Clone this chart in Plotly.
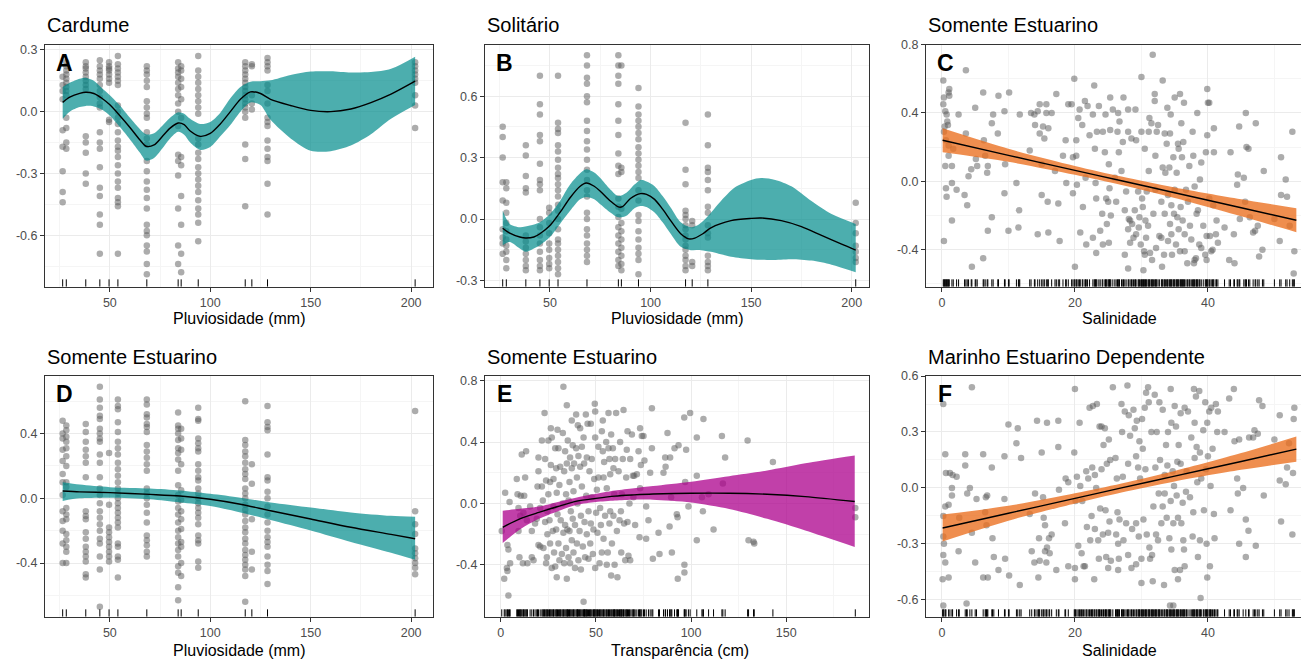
import plotly.graph_objects as go

# ---------------- DATA ----------------
rain_levels = [26.5, 28.3, 38.0, 45.0, 49.6, 54.0, 68.4, 84.0, 85.5, 94.0, 117.4, 120.7, 128.5, 202.0]

cardume_y = [
    [0.17, 0.13, 0.10, 0.06, -0.09, -0.17, -0.29, -0.39, -0.44],
    [0.24, 0.22, 0.2, 0.18, 0.16, 0.14, 0.12, 0.1, 0.08, -0.03, -0.08, -0.15, -0.18],
    [0.24, 0.22, 0.21, 0.19, 0.17, 0.15, 0.13, 0.11, -0.12, -0.15, -0.2, -0.3, -0.35],
    [0.25, 0.22, 0.2, 0.18, 0.16, 0.13, 0.1, 0.07, 0.04, 0.02, -0.1, -0.15, -0.18, -0.27, -0.37, -0.41, -0.5, -0.55, -0.69],
    [0.24, 0.22, 0.21, 0.2, 0.18, 0.16, 0.14, -0.04, -0.05],
    [0.27, 0.23, 0.21, 0.19, 0.17, 0.15, 0.13, 0.03, 0.0, -0.03, -0.06, -0.1, -0.14, -0.17, -0.19, -0.22, -0.26, -0.3, -0.34, -0.37, -0.42, -0.44, -0.46, -0.69],
    [0.22, 0.2, 0.18, 0.15, 0.12, 0.05, 0.02, -0.01, -0.03, -0.1, -0.13, -0.16, -0.24, -0.29, -0.34, -0.38, -0.42, -0.47, -0.55, -0.58, -0.6, -0.65, -0.68, -0.74, -0.79],
    [0.24, 0.21, 0.19, 0.17, 0.14, 0.11, 0.08, 0.04, 0.0, -0.07, -0.21, -0.24, -0.31, -0.47, -0.65, -0.74],
    [0.22, 0.2, 0.16, 0.12, 0.06, -0.03, -0.22, -0.26, -0.41, -0.55, -0.69, -0.78],
    [0.27, 0.2, 0.17, 0.14, 0.11, 0.08, 0.05, 0.02, -0.01, -0.13, -0.16, -0.2, -0.23, -0.27, -0.3, -0.33, -0.36, -0.39, -0.43, -0.47, -0.5, -0.54, -0.63],
    [0.24, 0.22, 0.2, 0.18, 0.16, 0.14, 0.12, 0.1, 0.08, 0.06, 0.04, 0.02, 0.0, -0.03, -0.16, -0.23, -0.46],
    [0.23, 0.22, 0.08, 0.04, 0.01],
    [0.26, 0.24, 0.22, 0.2, 0.13, 0.1, 0.04, -0.03, -0.05, -0.07, -0.14, -0.18, -0.22, -0.24, -0.35, -0.5],
    [0.24, 0.22, 0.2, 0.18, 0.16, 0.14, 0.08, 0.03, -0.08],
]
cardume_fit_x = [26.5, 30, 35, 38, 42, 46, 50, 55, 60, 65, 68, 72, 76, 80, 84, 87, 90, 95, 100, 105, 110, 115, 120, 125, 130, 140, 150, 160, 170, 180, 190, 202]
cardume_fit = [0.045, 0.07, 0.089, 0.094, 0.088, 0.065, 0.033, -0.02, -0.077, -0.138, -0.168, -0.162, -0.122, -0.08, -0.055, -0.063, -0.094, -0.12, -0.106, -0.06, 0.0, 0.06, 0.096, 0.088, 0.06, 0.03, 0.006, 0.0, 0.013, 0.044, 0.085, 0.148]
cardume_hi = [0.12, 0.14, 0.16, 0.165, 0.15, 0.115, 0.08, 0.03, -0.03, -0.085, -0.11, -0.105, -0.07, -0.03, -0.003, -0.01, -0.035, -0.06, -0.05, -0.005, 0.065, 0.12, 0.145, 0.148, 0.152, 0.178, 0.195, 0.196, 0.19, 0.192, 0.208, 0.267]
cardume_lo = [-0.035, 0.0, 0.022, 0.028, 0.025, 0.01, -0.02, -0.075, -0.135, -0.2, -0.238, -0.225, -0.18, -0.13, -0.098, -0.112, -0.15, -0.186, -0.172, -0.12, -0.065, 0.0, 0.045, 0.032, -0.04, -0.13, -0.19, -0.192, -0.165, -0.11, -0.035, 0.032]

solitario_y = [
    [0.45, 0.4, 0.3, 0.18, 0.09, -0.05, -0.09, -0.12, -0.17],
    [0.18, 0.15, 0.08, 0.03, -0.02, -0.06, -0.1, -0.13, -0.16, -0.2, -0.24],
    [0.36, 0.31, 0.21, 0.15, 0.13, -0.08, -0.11, -0.14, -0.17, -0.2, -0.23, -0.25],
    [0.7, 0.56, 0.51, 0.41, 0.38, 0.27, 0.19, 0.17, 0.14, 0.0, -0.04, -0.08, -0.12, -0.16, -0.2, -0.23, -0.25],
    [0.055, 0.03, -0.02, -0.07, -0.12, -0.15, -0.19, -0.22, -0.24],
    [0.7, 0.47, 0.44, 0.42, 0.36, 0.33, 0.29, 0.25, 0.22, 0.2, 0.17, 0.14, 0.11, 0.07, 0.04, 0.0, -0.05, -0.1, -0.12, -0.15, -0.18, -0.21, -0.24, -0.27],
    [0.8, 0.75, 0.69, 0.66, 0.6, 0.57, 0.48, 0.43, 0.38, 0.34, 0.29, 0.24, 0.19, 0.14, 0.11, 0.03, 0.0, -0.05, -0.08, -0.12, -0.15, -0.18, -0.21],
    [0.8, 0.75, 0.7, 0.66, 0.56, 0.48, 0.41, 0.32, 0.26, 0.22, 0.1, 0.06, 0.01, -0.04, -0.08, -0.12, -0.16, -0.2, -0.23],
    [0.75, 0.25, 0.23, 0.05, -0.02, -0.06, -0.1, -0.14, -0.18, -0.22, -0.25],
    [0.64, 0.55, 0.51, 0.48, 0.45, 0.42, 0.39, 0.35, 0.32, 0.29, 0.26, 0.23, 0.2, 0.14, 0.09, 0.02, -0.01, -0.06, -0.1, -0.14, -0.17, -0.2, -0.27],
    [0.47, 0.24, 0.17, 0.04, 0.02, 0.0, -0.03, -0.05, -0.08, -0.1, -0.13, -0.15, -0.18, -0.2, -0.23, -0.25],
    [-0.01, -0.03, -0.21, -0.23],
    [0.51, 0.36, 0.25, 0.23, 0.19, 0.14, 0.06, 0.03, -0.03, -0.07, -0.09, -0.18, -0.21, -0.23, -0.25],
    [0.08, -0.02, -0.07, -0.13, -0.16, -0.19, -0.21],
]
solitario_fit_x = [26.5, 30, 35, 38, 42, 45, 50, 55, 60, 65, 68, 72, 75, 80, 84, 86, 90, 95, 98, 102, 106, 110, 115, 119, 122, 126, 130, 140, 150, 155, 165, 175, 185, 195, 202]
solitario_fit = [-0.045, -0.069, -0.088, -0.093, -0.088, -0.072, -0.032, 0.032, 0.104, 0.16, 0.176, 0.16, 0.136, 0.088, 0.059, 0.06, 0.1, 0.124, 0.12, 0.096, 0.048, -0.008, -0.072, -0.097, -0.093, -0.072, -0.043, -0.008, 0.003, 0.005, -0.008, -0.037, -0.08, -0.123, -0.152]
solitario_hi_x = [26.5, 30, 35, 40, 45, 50, 55, 60, 65, 68, 72, 75, 80, 84, 88, 92, 95, 98, 102, 106, 110, 115, 120, 124, 128, 135, 142, 150, 155, 162, 170, 180, 190, 202]
solitario_hi = [0.04, -0.024, -0.04, -0.032, -0.016, 0.024, 0.088, 0.168, 0.223, 0.243, 0.227, 0.2, 0.144, 0.112, 0.128, 0.168, 0.191, 0.183, 0.16, 0.112, 0.056, -0.016, -0.04, -0.027, 0.008, 0.088, 0.155, 0.191, 0.2, 0.191, 0.16, 0.088, 0.024, -0.024]
solitario_lo_x = [26.5, 30, 35, 38, 42, 45, 50, 55, 60, 65, 68, 72, 75, 80, 84, 88, 92, 95, 98, 102, 106, 110, 115, 120, 125, 130, 140, 150, 160, 170, 180, 190, 202]
solitario_lo = [-0.128, -0.112, -0.144, -0.16, -0.144, -0.128, -0.088, -0.024, 0.04, 0.096, 0.107, 0.096, 0.072, 0.032, 0.008, 0.016, 0.053, 0.064, 0.059, 0.032, -0.016, -0.072, -0.136, -0.152, -0.152, -0.16, -0.184, -0.196, -0.2, -0.196, -0.203, -0.223, -0.26]

estuarino_rain_y = [
    [0.48, 0.4, 0.37, 0.3, 0.23, 0.15, 0.1, 0.02, -0.08, -0.14, -0.2, -0.28, -0.4],
    [0.45, 0.42, 0.38, 0.35, 0.31, 0.26, 0.2, 0.1, 0.07, -0.06, -0.1, -0.13, -0.22, -0.26, -0.3, -0.33, -0.4],
    [0.46, 0.41, 0.35, 0.3, 0.26, 0.22, 0.13, -0.08, -0.11, -0.13, -0.21, -0.25, -0.3, -0.33, -0.36, -0.39, -0.47, -0.49],
    [0.69, 0.61, 0.56, 0.51, 0.49, 0.43, 0.4, 0.37, 0.35, 0.27, 0.22, 0.13, 0.06, 0.02, -0.03, -0.08, -0.12, -0.16, -0.2, -0.25, -0.28, -0.36, -0.44, -0.67],
    [0.28, -0.04, -0.18, -0.21, -0.24, -0.27, -0.3, -0.33, -0.36, -0.39],
    [0.61, 0.57, 0.55, 0.47, 0.41, 0.35, 0.31, 0.27, 0.22, 0.18, 0.14, 0.1, 0.06, 0.03, 0.0, -0.03, -0.06, -0.09, -0.12, -0.15, -0.18, -0.28, -0.3, -0.36, -0.38, -0.49],
    [0.61, 0.58, 0.52, 0.5, 0.46, 0.44, 0.41, 0.33, 0.29, 0.25, 0.21, 0.17, 0.06, 0.03, 0.0, -0.04, -0.09, -0.15, -0.23, -0.26, -0.29, -0.33, -0.36],
    [0.53, 0.45, 0.43, 0.4, 0.36, 0.31, 0.28, 0.24, 0.17, 0.08, 0.02, -0.02, -0.06, -0.1, -0.15, -0.2, -0.24, -0.28, -0.32, -0.36, -0.42, -0.46, -0.55, -0.63],
    [0.43, 0.37, 0.3, 0.21, 0.05, -0.01, -0.08, -0.13, -0.19, -0.27, -0.3, -0.4, -0.48],
    [0.56, 0.49, 0.48, 0.37, 0.34, 0.31, 0.29, 0.21, 0.17, 0.13, 0.11, 0.06, 0.03, 0.0, -0.03, -0.06, -0.09, -0.12, -0.16, -0.23, -0.26, -0.28, -0.39, -0.43],
    [0.6, 0.36, 0.33, 0.29, 0.26, 0.22, 0.18, 0.15, 0.12, 0.06, 0.03, 0.0, -0.04, -0.07, -0.1, -0.14, -0.18, -0.21, -0.25, -0.28, -0.32, -0.35, -0.38, -0.41, -0.44, -0.48, -0.64],
    [0.21, 0.09, -0.13, -0.33, -0.44],
    [0.57, 0.47, 0.44, 0.42, 0.27, 0.13, 0.11, 0.04, 0.0, -0.05, -0.1, -0.15, -0.2, -0.24, -0.27, -0.3, -0.36, -0.41, -0.45, -0.53],
    [0.54, -0.08, -0.16, -0.22, -0.31, -0.34, -0.37, -0.4, -0.43, -0.47],
]
estuarino_rain_fit_x = [26.5, 35, 50, 70, 85, 100, 115, 130, 150, 170, 190, 202]
estuarino_rain_fit = [0.045, 0.04, 0.035, 0.024, 0.014, -0.006, -0.037, -0.077, -0.128, -0.179, -0.223, -0.25]
estuarino_rain_hi = [0.1, 0.085, 0.069, 0.061, 0.049, 0.028, 0.004, -0.026, -0.057, -0.087, -0.108, -0.114]
estuarino_rain_lo = [-0.016, 0.0, 0.004, -0.006, -0.026, -0.047, -0.087, -0.134, -0.199, -0.27, -0.337, -0.38]

estuarino_sal_points = [
    (0.2, 0.59), (0.3, 0.49), (1.0, 0.52), (1.1, 0.5), (0.2, 0.45), (0.5, 0.41), (0.7, 0.39), (0.9, 0.33), (0.4, 0.32),
    (0.3, 0.29), (0.6, 0.24), (1.0, 0.21), (1.0, 0.15), (0.5, 0.09), (1.5, 0.09), (1.5, -0.01), (0.6, -0.04), (0.7, -0.09),
    (1.5, -0.23), (0.3, -0.35), (3.6, 0.65), (1.1, 0.54), (0.8, 0.35),
    (2.5, 0.39), (2.2, -0.05), (1.7, 0.19), (3.6, 0.28), (3.8, -0.14), (3.4, -0.08), (4.0, 0.03), (4.4, 0.07), (5.0, 0.43),
    (5.1, 0.13), (5.3, 0.09), (4.5, -0.5), (6.2, 0.52), (6.2, -0.45), (6.3, 0.24), (6.5, 0.15), (6.8, 0.05), (6.9, 0.09),
    (6.9, -0.29), (7.5, 0.34), (7.7, 0.39), (7.5, -0.21), (8.4, 0.28), (8.5, 0.5), (9.4, 0.41), (9.4, -0.07), (9.5, 0.1),
    (10.1, 0.52), (10.0, -0.29),
    (11.2, -0.01), (11.6, -0.17), (11.7, 0.39), (11.5, -0.27), (13.2, 0.18), (13.4, 0.4), (13.9, 0.39), (14.0, 0.33),
    (14.4, 0.41), (14.4, -0.31), (14.7, 0.45), (14.7, 0.28), (15.0, -0.08), (15.0, 0.1), (15.2, 0.32), (15.4, 0.25),
    (15.7, 0.45), (15.7, 0.4), (15.9, -0.12), (16.0, -0.3), (16.0, 0.31), (16.5, 0.4), (17.2, 0.51), (17.5, -0.13),
    (17.7, -0.35), (17.0, 0.06), (18.2, 0.15), (18.6, 0.24), (18.7, -0.01), (19.0, 0.45), (19.5, 0.45), (19.7, -0.07),
    (19.7, 0.14), (20.0, -0.5), (19.9, 0.6),
    (20.2, 0.24), (20.2, 0.15), (20.3, -0.02), (20.5, 0.37), (20.7, 0.42), (20.8, -0.3), (21.1, 0.33), (21.2, -0.15),
    (21.5, 0.47), (21.6, 0.02), (21.7, -0.37), (21.9, 0.44), (22.2, 0.27), (22.7, 0.39), (22.7, -0.33), (22.9, 0.56),
    (23.0, 0.19), (23.1, -0.01), (23.2, -0.1), (23.2, -0.42), (23.3, 0.29), (23.6, 0.44), (23.8, -0.29), (24.1, -0.19),
    (24.2, 0.29), (24.2, -0.37), (24.5, 0.17), (24.6, 0.39), (24.7, -0.1), (24.8, -0.25), (25.0, -0.12), (25.1, 0.1),
    (25.1, -0.36), (25.2, -0.04), (25.3, 0.3), (25.3, 0.49), (25.4, -0.2), (25.7, 0.42), (26.0, 0.02), (26.2, -0.12),
    (26.4, 0.29), (26.5, 0.4), (26.6, 0.17), (26.7, 0.35), (27.0, 0.06), (27.2, 0.23), (27.3, 0.49), (27.5, -0.43),
    (27.5, -0.17), (27.7, -0.06), (28.0, -0.51), (28.0, 0.29), (28.0, 0.42), (28.0, -0.28), (28.1, -0.22), (28.3, -0.36),
    (28.3, -0.23), (28.5, 0.25), (28.6, -0.25), (28.8, -0.33), (29.0, -0.17), (29.1, 0.42), (29.2, 0.24), (29.2, -0.31),
    (29.5, -0.06), (29.6, -0.27), (29.7, -0.21), (29.9, -0.37), (30.0, 0.61),
    (30.0, 0.29), (30.1, -0.1), (30.2, -0.15), (30.3, -0.52), (30.4, -0.41), (30.5, 0.19), (30.5, -0.43), (30.6, -0.23),
    (30.7, -0.33), (30.8, -0.06), (31.0, -0.26), (31.1, 0.29), (31.1, 0.06), (31.2, 0.37), (31.3, -0.42), (31.5, 0.34),
    (31.6, -0.46), (31.7, 0.74), (31.8, -0.19), (32.0, 0.47), (32.0, 0.51), (32.1, -0.05), (32.1, 0.15), (32.2, -0.39),
    (32.3, 0.29), (32.5, 0.33), (32.7, -0.32), (33.0, -0.12), (33.0, -0.33), (33.1, -0.5), (33.2, 0.59), (33.2, 0.08),
    (33.4, -0.43), (33.5, 0.28), (33.5, -0.19), (33.6, 0.05), (33.8, 0.22), (33.9, 0.43), (34.0, -0.08), (34.0, -0.35),
    (34.2, 0.08), (34.3, 0.28), (34.3, -0.25), (34.4, 0.39), (34.5, -0.14), (34.5, -0.31), (34.6, -0.43), (34.8, 0.14),
    (34.9, -0.19), (35.0, 0.49), (35.0, -0.05), (35.2, -0.37), (35.3, 0.05), (35.4, -0.21), (35.5, 0.22), (35.6, -0.28),
    (35.6, 0.19), (35.8, 0.51), (35.8, -0.41), (35.9, -0.15), (36.0, 0.34), (36.1, 0.14), (36.2, -0.23), (36.3, 0.23),
    (36.4, 0.46), (36.5, -0.31), (36.5, -0.41), (36.7, -0.05), (36.9, -0.48), (37.0, -0.12), (37.2, 0.09), (37.3, -0.26),
    (37.5, -0.34), (37.7, 0.29), (37.8, 0.15), (37.9, -0.48), (38.0, -0.03), (38.0, -0.46), (38.2, -0.45), (38.3, -0.19),
    (38.4, 0.4), (38.5, -0.17), (38.7, -0.37), (38.8, 0.01), (39.0, -0.39), (39.0, 0.11), (39.3, -0.26), (39.6, -0.43),
    (39.7, 0.17), (39.8, -0.46), (39.8, -0.32), (39.9, 0.27), (39.9, 0.54), (40.0, 0.46),
    (40.2, 0.46), (40.2, -0.1), (40.3, -0.32), (40.5, -0.41), (40.7, -0.4), (40.8, -0.14), (40.9, 0.17), (40.9, 0.31),
    (41.2, -0.31), (41.3, -0.23), (41.5, -0.36), (42.5, -0.27), (43.2, -0.46), (43.4, 0.17), (43.9, -0.31), (44.0, -0.48),
    (44.4, -0.02), (44.5, 0.04), (44.7, 0.32), (44.8, -0.22), (45.4, 0.02), (45.6, -0.12), (45.7, 0.4), (45.8, 0.2),
    (46.1, 0.19), (46.3, -0.21), (46.8, -0.3), (47.1, -0.29), (47.2, 0.34), (47.5, -0.26), (47.7, -0.44), (48.2, -0.4),
    (48.4, 0.06), (50.0, -0.22), (50.8, -0.35), (51.0, 0.14), (51.0, -0.08), (51.7, 0.01), (51.9, -0.09), (52.3, -0.26),
    (52.7, 0.29), (52.9, -0.54), (53.0, -0.41),
]
estuarino_sal_fit_x = [0.1, 10, 20, 27, 35, 45, 53.3]
estuarino_sal_fit = [0.24, 0.152, 0.064, 0.003, -0.067, -0.155, -0.228]
estuarino_sal_hi = [0.31, 0.19, 0.09, 0.028, -0.036, -0.105, -0.158]
estuarino_sal_lo = [0.17, 0.114, 0.038, -0.022, -0.098, -0.205, -0.298]

transp_points = [
    (0.5, -0.18), (1.8, -0.49), (2.3, 0.07), (3.2, -0.42), (3.5, -0.27), (4.0, -0.3), (4.0, -0.6), (3.5, -0.44),
    (4.9, -0.39), (4.6, 0.01), (8.4, 0.16), (8.8, 0.06), (9.3, -0.03), (9.3, -0.18), (9.8, -0.35), (10.2, -0.08),
    (10.5, 0.05), (11.0, 0.32), (11.6, -0.39), (11.9, -0.06), (12.3, 0.05), (12.8, 0.17), (13.3, 0.34), (13.7, -0.11),
    (14.0, -0.39),
    (15.4, -0.02), (16.3, -0.18), (16.3, -0.35), (17.2, -0.37), (18.0, -0.13), (18.9, -0.1), (19.3, 0.11), (19.8, 0.3),
    (19.8, -0.27), (19.8, 0.21), (20.7, -0.03), (20.7, -0.28), (21.6, 0.11), (21.6, 0.41), (22.1, 0.02), (22.4, -0.29),
    (23.0, 0.59), (23.3, 0.29), (23.3, -0.12), (23.8, 0.15), (23.8, -0.39), (24.2, -0.35), (24.5, -0.2), (24.5, -0.05),
    (25.0, 0.06), (25.0, 0.41), (25.6, -0.11), (25.9, -0.26), (25.9, 0.14), (26.3, 0.49), (26.3, 0.25), (26.8, 0.43),
    (26.8, -0.42), (27.3, -0.18), (27.7, 0.16), (27.7, -0.02), (28.0, -0.32), (28.6, 0.36), (28.6, -0.41), (29.1, 0.23),
    (29.1, -0.17), (29.4, -0.48), (29.4, 0.07), (29.8, 0.48), (29.8, -0.07),
    (30.3, 0.36), (30.3, -0.26), (30.8, 0.12), (30.8, -0.37), (31.2, 0.24), (31.5, -0.11), (32.1, -0.33), (32.6, 0.46),
    (32.6, 0.0), (32.9, 0.76), (32.9, -0.19), (33.3, 0.21), (33.3, -0.39), (33.8, 0.34), (33.8, -0.14), (34.3, 0.06),
    (34.3, -0.29), (34.7, 0.64), (34.7, 0.26), (34.7, -0.49), (35.0, -0.17), (35.2, 0.41), (35.6, 0.02), (35.6, -0.35),
    (36.1, 0.14), (36.1, -0.18), (36.4, 0.3), (36.4, -0.39), (36.8, -0.05), (37.3, 0.54), (37.3, 0.23), (37.3, -0.24),
    (37.8, 0.38), (37.8, -0.1), (38.2, 0.08), (38.2, -0.32), (38.5, 0.26), (39.0, -0.14), (39.0, -0.42), (39.6, 0.58),
    (39.6, 0.36), (40.0, 0.17), (40.0, -0.26), (40.3, 0.0), (40.5, 0.51), (40.8, 0.31), (40.8, -0.37), (41.4, -0.18),
    (41.7, 0.24), (41.7, 0.49), (42.1, -0.08), (42.1, -0.43), (42.6, 0.37), (42.6, 0.11), (43.1, -0.28), (43.5, 0.43),
    (43.5, -0.64), (43.8, 0.26), (44.0, -0.12), (44.3, -0.35), (44.7, 0.58), (44.9, 0.05),
    (45.2, 0.3), (45.2, -0.2), (45.6, 0.52), (46.1, -0.05), (46.1, -0.36), (46.6, 0.21), (47.0, -0.26), (47.3, 0.52),
    (47.3, -0.13), (47.8, 0.29), (47.8, 0.04), (48.4, -0.33), (48.7, -0.17), (49.1, 0.16), (49.4, 0.65), (49.6, 0.43),
    (49.6, -0.42), (49.6, 0.6), (50.1, -0.06), (50.5, 0.09), (50.8, -0.19), (51.3, 0.37), (51.3, 0.17), (51.9, -0.39),
    (52.2, -0.03), (52.6, -0.14), (53.1, -0.32), (53.1, 0.47), (53.6, 0.34), (53.6, 0.54), (54.0, 0.17), (54.0, -0.23),
    (54.3, 0.27), (54.8, -0.08), (55.4, 0.4), (55.7, 0.1), (55.7, -0.4), (56.2, -0.32), (56.6, 0.59), (56.6, 0.36),
    (57.1, 0.29), (57.1, -0.13), (57.5, 0.19), (57.5, -0.05), (58.0, 0.45), (58.0, -0.47), (58.4, -0.26), (58.9, 0.36),
    (59.2, 0.23), (59.2, -0.08), (59.6, 0.06), (59.8, -0.4),
    (60.1, 0.29), (60.6, 0.59), (61.0, -0.18), (61.3, -0.48), (61.9, 0.21), (62.4, -0.11), (62.7, 0.4), (63.1, -0.05),
    (63.3, -0.32), (63.6, 0.06), (64.1, 0.29), (64.5, 0.61), (64.8, -0.13), (65.4, -0.37), (65.9, 0.17), (66.2, 0.35),
    (66.6, 0.47), (66.6, -0.12), (67.1, -0.34), (67.6, 0.0), (68.0, 0.29), (68.0, -0.37), (68.9, 0.45), (69.4, 0.18),
    (69.7, 0.04), (70.1, 0.18), (70.6, -0.14), (71.5, 0.19), (72.4, 0.34), (72.9, -0.22), (73.2, 0.49), (73.2, 0.1),
    (73.6, 0.25), (74.1, 0.44), (75.0, 0.44), (75.5, 0.28), (76.4, -0.02), (76.4, -0.23), (77.6, -0.11), (78.5, 0.2),
    (79.4, 0.36), (79.4, 0.62), (79.9, -0.36),
    (82.9, -0.19), (83.4, -0.33), (85.5, 0.2), (86.4, 0.3), (86.6, 0.24), (87.6, 0.46), (88.7, -0.15), (89.0, 0.3),
    (89.5, 0.04), (89.9, -0.32), (91.3, 0.36), (92.5, -0.07), (92.9, -0.09), (93.0, -0.49), (93.4, 0.38), (96.4, 0.56),
    (96.5, -0.4), (96.5, -0.45), (96.9, 0.14), (97.4, 0.35), (98.6, -0.02), (99.5, 0.59), (103.0, 0.18), (103.0, -0.24),
    (103.0, 0.43), (105.7, 0.04), (106.2, -0.05), (106.5, 0.55),
    (109.2, 0.06), (111.8, -0.17), (116.2, 0.44), (116.7, 0.13), (117.9, 0.3), (129.7, 0.41), (130.2, -0.24),
    (132.8, -0.25), (133.2, -0.26), (143.0, 0.27), (186.3, -0.03), (186.3, -0.09),
]
transp_fit_x = [1, 10, 20, 30, 40, 50, 60, 70, 80, 100, 120, 140, 160, 186]
transp_fit = [-0.155, -0.1, -0.058, -0.02, 0.015, 0.033, 0.048, 0.056, 0.062, 0.067, 0.067, 0.06, 0.045, 0.013]
transp_hi = [-0.047, -0.035, -0.02, 0.01, 0.039, 0.063, 0.085, 0.1, 0.114, 0.142, 0.178, 0.215, 0.262, 0.313]
transp_lo = [-0.258, -0.17, -0.1, -0.05, -0.009, 0.01, 0.02, 0.025, 0.024, 0.006, -0.036, -0.1, -0.176, -0.283]

marinho_points = [
    (0.2, 0.45), (0.5, 0.18), (0.6, 0.08), (0.2, -0.15), (0.5, -0.1), (0.2, -0.26), (0.3, -0.3), (0.2, -0.36),
    (0.5, -0.4), (0.1, -0.49), (0.2, -0.63), (1.0, -0.09), (1.0, -0.48), (1.2, 0.08), (1.5, 0.0), (1.5, -0.04),
    (1.6, 0.07), (2.2, 0.06), (2.5, -0.34), (2.6, -0.16), (3.5, 0.18), (3.5, 0.12), (3.7, -0.62), (3.8, -0.03),
    (4.2, 0.0), (4.5, 0.54), (4.5, -0.24), (5.0, -0.4), (5.2, -0.06), (6.2, 0.18), (6.2, -0.48), (6.5, -0.13),
    (6.6, -0.05), (6.7, -0.2), (6.8, -0.04), (6.9, -0.48), (7.5, 0.11), (7.6, -0.27), (7.8, -0.37), (8.5, -0.44),
    (9.4, 0.17), (9.4, -0.06), (9.5, -0.38), (10.0, 0.34), (10.1, -0.47), (11.2, 0.24), (11.4, 0.32), (11.7, -0.52),
    (11.9, 0.16),
    (13.2, -0.14), (13.5, -0.34), (13.9, -0.4), (14.0, -0.03), (14.3, 0.36), (14.5, -0.48), (14.6, -0.27), (14.7, -0.39),
    (15.0, 0.19), (15.2, -0.05), (15.3, -0.16), (15.5, -0.2), (15.5, -0.34), (15.7, -0.4), (15.8, -0.32), (15.8, 0.35),
    (16.1, -0.27), (16.2, -0.35), (16.5, -0.25), (17.2, -0.44), (17.5, 0.36), (17.5, 0.22), (17.6, -0.01), (18.5, -0.19),
    (18.6, 0.05), (19.0, 0.03), (19.0, -0.42), (19.9, 0.19), (20.0, 0.53), (20.0, -0.49), (20.0, -0.43),
    (20.1, -0.07), (20.3, 0.06), (20.5, -0.31), (20.7, 0.35), (20.8, 0.01), (21.0, -0.35), (21.1, -0.07), (21.3, -0.42),
    (21.5, -0.42), (21.7, 0.09), (21.8, -0.21), (22.0, 0.05), (22.2, 0.43), (22.3, -0.28), (22.5, -0.15), (22.6, 0.11),
    (22.7, 0.44), (22.9, -0.49), (23.0, -0.22), (23.0, 0.07), (23.2, 0.0), (23.3, 0.45), (23.5, -0.28), (23.6, -0.38),
    (23.7, 0.33), (23.8, -0.11), (24.0, 0.1), (24.0, 0.33), (24.2, -0.25), (24.3, 0.23), (24.5, 0.32), (24.6, -0.12),
    (24.7, -0.37), (24.8, 0.13), (25.0, -0.43), (25.0, -0.24), (25.1, 0.26), (25.2, -0.18), (25.3, 0.15), (25.4, -0.39),
    (25.7, 0.54), (26.1, 0.16), (26.2, -0.25), (26.3, 0.05), (26.4, -0.13), (26.5, -0.44), (26.5, -0.3), (26.6, -0.38),
    (26.7, -0.17), (27.0, 0.45), (27.1, 0.3), (27.2, 0.06), (27.3, -0.28), (27.5, 0.41), (27.7, -0.19), (27.9, 0.55),
    (28.0, -0.36), (28.0, 0.13), (28.1, 0.39), (28.3, 0.28), (28.5, -0.43), (28.6, -0.22), (28.8, 0.42), (29.0, 0.32),
    (29.2, 0.17), (29.2, -0.41), (29.2, -0.19), (29.3, 0.36), (29.5, 0.11), (29.6, -0.26), (29.7, 0.25), (29.8, 0.05),
    (30.0, -0.38), (30.0, -0.51), (30.1, 0.37), (30.2, 0.21),
    (30.3, -0.17), (30.5, 0.43), (30.6, 0.1), (30.7, 0.51), (30.8, -0.25), (31.0, 0.54), (31.1, 0.46), (31.2, -0.32),
    (31.3, -0.38), (31.5, 0.3), (31.6, -0.36), (31.7, -0.5), (31.8, -0.1), (32.0, 0.5), (32.1, 0.11), (32.2, -0.25),
    (32.3, 0.3), (32.5, -0.28), (32.6, -0.03), (32.7, 0.46), (32.8, 0.15), (33.0, -0.19), (33.2, -0.1), (33.2, 0.42),
    (33.4, -0.52), (33.5, 0.07), (33.5, -0.03), (33.7, 0.23), (33.8, -0.16), (33.9, 0.12), (34.0, 0.3), (34.2, -0.27),
    (34.3, -0.63), (34.4, -0.07), (34.4, 0.53), (34.5, 0.35), (34.5, -0.33), (34.7, 0.09), (34.8, -0.19), (34.8, -0.63),
    (34.9, 0.01), (35.0, 0.44), (35.0, -0.44), (35.2, 0.33), (35.3, -0.04), (35.4, 0.14), (35.5, -0.16), (35.5, -0.49),
    (35.6, 0.23), (35.8, -0.44), (35.9, 0.4), (35.9, 0.13), (36.0, -0.19), (36.2, -0.08), (36.3, -0.28), (36.4, -0.33),
    (36.5, 0.43), (36.5, -0.42), (36.7, -0.02), (36.8, 0.09), (37.0, 0.41), (37.3, -0.05), (37.5, 0.27), (37.7, -0.26),
    (37.8, -0.13), (37.9, 0.53), (38.0, 0.35), (38.0, 0.16), (38.2, 0.49), (38.3, 0.22), (38.4, 0.03), (38.5, -0.37),
    (38.7, 0.52), (38.8, 0.19), (38.8, -0.28), (38.9, -0.59), (39.0, 0.05), (39.3, 0.31), (39.4, -0.12), (39.6, 0.46),
    (39.7, 0.1), (39.8, -0.3), (39.9, -0.48), (39.9, 0.35), (40.0, 0.17),
    (40.2, 0.41), (40.3, -0.42), (40.4, 0.01), (40.5, 0.43), (40.7, 0.21), (40.9, -0.14), (41.0, -0.27), (41.2, 0.45),
    (41.4, 0.3), (41.5, 0.41), (42.5, 0.3), (43.2, 0.48), (43.4, -0.12), (43.9, 0.53), (44.0, 0.25), (44.4, 0.05),
    (44.5, -0.03), (44.7, 0.26), (44.7, -0.3), (45.3, 0.0), (45.7, -0.17), (45.7, -0.37), (46.1, -0.23), (46.2, 0.27),
    (46.8, 0.27), (47.0, 0.31), (47.2, -0.31), (47.5, 0.29), (47.7, 0.47), (48.2, 0.44), (48.4, -0.04), (50.0, 0.26),
    (50.8, 0.39), (50.8, 0.04), (51.0, -0.18), (51.7, 0.02), (51.9, 0.11), (52.2, 0.24), (52.7, -0.25), (52.8, 0.08),
    (52.9, 0.37), (53.0, 0.43),
]
marinho_fit_x = [0.1, 10, 20, 27, 35, 45, 53.3]
marinho_fit = [-0.215, -0.136, -0.056, 0.0, 0.063, 0.142, 0.208]
marinho_hi = [-0.143, -0.096, -0.029, 0.024, 0.091, 0.187, 0.276]
marinho_lo = [-0.287, -0.176, -0.083, -0.024, 0.035, 0.097, 0.14]

# axis tick labels
rain_ticks = [50, 100, 150, 200]
rain_minor = [25, 75, 125, 175]
sal_ticks = [0, 20, 40]
sal_minor = [10, 30, 50]
transp_ticks = [0, 50, 100, 150]
transp_minor = [25, 75, 125, 175]

titles = ["Cardume", "Solitário", "Somente Estuarino", "Somente Estuarino", "Somente Estuarino", "Marinho Estuarino Dependente"]
letters = ["A", "B", "C", "D", "E", "F"]
xtitles = ["Pluviosidade (mm)", "Pluviosidade (mm)", "Salinidade", "Pluviosidade (mm)", "Transparência (cm)", "Salinidade"]

# ---------------- LAYOUT CONSTANTS ----------------
W, H = 1301, 664
FONT = "Liberation Sans, Arial, Helvetica, sans-serif"
boxes = [(45, 38, 433, 283), (485, 38, 869, 283), (926, 38, 1301, 283),
         (45, 373, 433, 617), (485, 373, 869, 617), (926, 373, 1301, 617)]
xranges = [[17.7, 210.9], [17.7, 208.6], [-2.4, 54.0], [17.7, 210.9], [-8.3, 193.5], [-2.4, 54.0]]
yranges = [[-0.85, 0.326], [-0.33, 0.852], [-0.616, 0.80], [-0.731, 0.759], [-0.737, 0.834], [-0.69, 0.603]]
ytick_sets = [
    ([-0.6, -0.3, 0.0, 0.3], ["-0.6", "-0.3", "0.0", "0.3"], [-0.75, -0.45, -0.15, 0.15]),
    ([-0.3, 0.0, 0.3, 0.6], ["-0.3", "0.0", "0.3", "0.6"], [-0.15, 0.15, 0.45, 0.75]),
    ([-0.4, 0.0, 0.4, 0.8], ["-0.4", "0.0", "0.4", "0.8"], [-0.6, -0.2, 0.2, 0.6]),
    ([-0.4, 0.0, 0.4], ["-0.4", "0.0", "0.4"], [-0.6, -0.2, 0.2, 0.6]),
    ([-0.4, 0.0, 0.4, 0.8], ["-0.4", "0.0", "0.4", "0.8"], [-0.6, -0.2, 0.2, 0.6]),
    ([-0.6, -0.3, 0.0, 0.3, 0.6], ["-0.6", "-0.3", "0.0", "0.3", "0.6"], [-0.45, -0.15, 0.15, 0.45]),
]
xtick_sets = [
    (rain_ticks, rain_minor), (rain_ticks, rain_minor), (sal_ticks, sal_minor),
    (rain_ticks, rain_minor), (transp_ticks, transp_minor), (sal_ticks, sal_minor),
]
xtitle_centers = [239, 677, 1119, 239, 680, 1119]
row_title_y = [18, 18, 18, 354, 354, 354]
row_xtitle_y = [315, 315, 315, 651, 651, 651]

TEAL = "rgba(0,139,139,0.7)"
ORANGE = "rgba(235,110,30,0.78)"
MAGENTA = "rgba(172,0,140,0.75)"
POINT = "rgba(90,90,90,0.5)"


def flatten(levels, ylists):
    xs, ys = [], []
    for lv, yl in zip(levels, ylists):
        xs += [lv] * len(yl)
        ys += yl
    return xs, ys


def unzip(pairs):
    return [p[0] for p in pairs], [p[1] for p in pairs]


panel_data = []
xa, ya = flatten(rain_levels, cardume_y)
panel_data.append(dict(px=xa, py=ya, fx=cardume_fit_x, fy=cardume_fit,
                       hx=cardume_fit_x, hy=cardume_hi, lx=cardume_fit_x, ly=cardume_lo, col=TEAL))
xb, yb = flatten(rain_levels, solitario_y)
panel_data.append(dict(px=xb, py=yb, fx=solitario_fit_x, fy=solitario_fit,
                       hx=solitario_hi_x, hy=solitario_hi, lx=solitario_lo_x, ly=solitario_lo, col=TEAL))
xc, yc = unzip(estuarino_sal_points)
panel_data.append(dict(px=xc, py=yc, fx=estuarino_sal_fit_x, fy=estuarino_sal_fit,
                       hx=estuarino_sal_fit_x, hy=estuarino_sal_hi, lx=estuarino_sal_fit_x, ly=estuarino_sal_lo, col=ORANGE))
xd, yd = flatten(rain_levels, estuarino_rain_y)
panel_data.append(dict(px=xd, py=yd, fx=estuarino_rain_fit_x, fy=estuarino_rain_fit,
                       hx=estuarino_rain_fit_x, hy=estuarino_rain_hi, lx=estuarino_rain_fit_x, ly=estuarino_rain_lo, col=TEAL))
xe, ye = unzip(transp_points)
panel_data.append(dict(px=xe, py=ye, fx=transp_fit_x, fy=transp_fit,
                       hx=transp_fit_x, hy=transp_hi, lx=transp_fit_x, ly=transp_lo, col=MAGENTA))
xf, yf = unzip(marinho_points)
panel_data.append(dict(px=xf, py=yf, fx=marinho_fit_x, fy=marinho_fit,
                       hx=marinho_fit_x, hy=marinho_hi, lx=marinho_fit_x, ly=marinho_lo, col=ORANGE))

fig = go.Figure()
shapes = []
annotations = []
layout_axes = {}

for i, d in enumerate(panel_data):
    n = "" if i == 0 else str(i + 1)
    xref, yref = "x" + n, "y" + n
    # points
    fig.add_trace(go.Scatter(x=d["px"], y=d["py"], mode="markers", xaxis=xref, yaxis=yref,
                             marker=dict(size=6.5, color=POINT, line=dict(width=0)),
                             showlegend=False, hoverinfo="skip"))
    # band: lower edge then upper edge filled to it
    fig.add_trace(go.Scatter(x=d["lx"], y=d["ly"], mode="lines", xaxis=xref, yaxis=yref,
                             line=dict(width=0, color="rgba(0,0,0,0)", shape="spline", smoothing=0.8),
                             showlegend=False, hoverinfo="skip"))
    fig.add_trace(go.Scatter(x=d["hx"], y=d["hy"], mode="lines", fill="tonexty", fillcolor=d["col"],
                             line=dict(width=0, color="rgba(0,0,0,0)", shape="spline", smoothing=0.8),
                             xaxis=xref, yaxis=yref, showlegend=False, hoverinfo="skip"))
    # fit line
    fig.add_trace(go.Scatter(x=d["fx"], y=d["fy"], mode="lines", xaxis=xref, yaxis=yref,
                             line=dict(color="black", width=1.4, shape="spline", smoothing=0.8),
                             showlegend=False, hoverinfo="skip"))
    # rug
    for v in sorted(set(d["px"])):
        shapes.append(dict(type="line", xref=xref, yref=yref + " domain", x0=v, x1=v, y0=0, y1=0.03,
                           line=dict(color="black", width=1), layer="above"))

    l, t, r, b = boxes[i]
    xdom = [l / W, min(r / W, 1.0)]
    ydom = [1 - b / H, 1 - t / H]
    xt, xm = xtick_sets[i]
    yt, ytt, ym = ytick_sets[i]
    common = dict(showgrid=True, gridcolor="#EBEBEB", gridwidth=1, zeroline=False,
                  showline=True, linecolor="#333333", linewidth=1,
                  ticks="outside", ticklen=4, tickwidth=1, tickcolor="#333333",
                  tickfont=dict(family=FONT, size=12.5, color="#4D4D4D"), fixedrange=True)
    layout_axes["xaxis" + n] = dict(domain=xdom, range=xranges[i], anchor=yref,
                                    tickmode="array", tickvals=xt, ticktext=[str(v) for v in xt],
                                    minor=dict(tickmode="array", tickvals=xm, showgrid=True,
                                               gridcolor="#F5F5F5", gridwidth=1, ticks=""),
                                    mirror=True, **common)
    layout_axes["yaxis" + n] = dict(domain=ydom, range=yranges[i], anchor=xref,
                                    tickmode="array", tickvals=yt, ticktext=ytt,
                                    minor=dict(tickmode="array", tickvals=ym, showgrid=True,
                                               gridcolor="#F5F5F5", gridwidth=1, ticks=""),
                                    mirror=(i not in (2, 5)), **common)
    # panel title
    annotations.append(dict(text=titles[i], xref="paper", yref="paper", x=l / W, y=1 - row_title_y[i] / H,
                            xanchor="left", yanchor="middle", showarrow=False,
                            font=dict(family=FONT, size=20, color="black")))
    # panel letter
    annotations.append(dict(text="<b>" + letters[i] + "</b>", xref="paper", yref="paper",
                            x=(l + 19) / W, y=1 - (t + 19) / H, xanchor="center", yanchor="middle",
                            showarrow=False, font=dict(family=FONT, size=23, color="black")))
    # x axis title
    annotations.append(dict(text=xtitles[i], xref="paper", yref="paper", x=xtitle_centers[i] / W,
                            y=1 - row_xtitle_y[i] / H, xanchor="center", yanchor="middle", showarrow=False,
                            font=dict(family=FONT, size=16, color="black")))

fig.update_layout(width=W, height=H, margin=dict(l=0, r=0, t=0, b=0),
                  paper_bgcolor="white", plot_bgcolor="white",
                  shapes=shapes, annotations=annotations, showlegend=False, **layout_axes)

fig.write_html("out.html", config={"displayModeBar": False})
